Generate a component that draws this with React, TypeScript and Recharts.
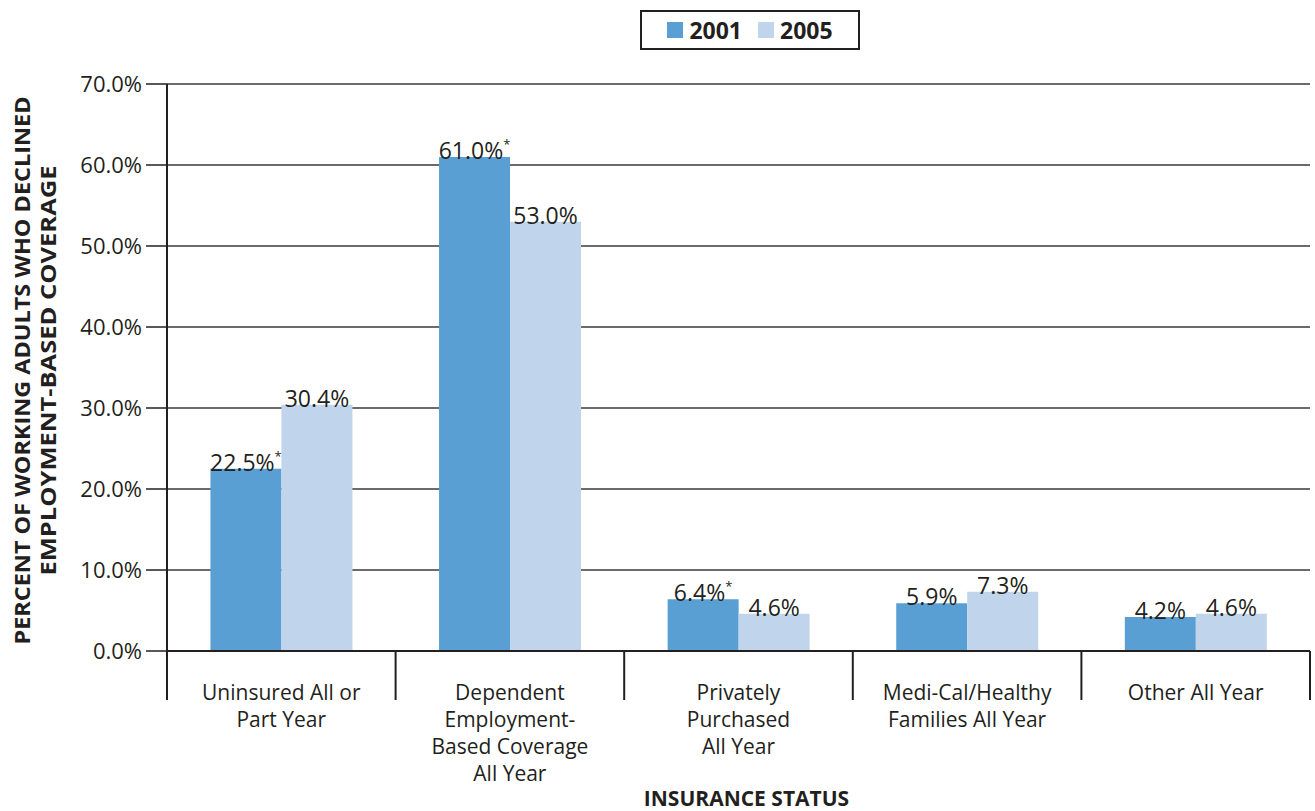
import React from "react";
import { BarChart, Bar, XAxis, YAxis, CartesianGrid, Label, LabelList } from "recharts";

const categories: string[] = [
  "Uninsured All or\nPart Year",
  "Dependent\nEmployment-\nBased Coverage\nAll Year",
  "Privately\nPurchased\nAll Year",
  "Medi-Cal/Healthy\nFamilies All Year",
  "Other All Year",
];
const values2001: number[] = [22.5, 61.0, 6.4, 5.9, 4.2];
const values2005: number[] = [30.4, 53.0, 4.6, 7.3, 4.6];
// asterisk = statistically significant difference
const sig2001: boolean[] = [true, true, true, false, false];
const sig2005: boolean[] = [false, false, false, false, false];
const yTicks: number[] = [0, 10, 20, 30, 40, 50, 60, 70];

const W = 1315;
const H = 811;
const MARGIN = { top: 84, right: 5, left: 0, bottom: 0 };
const Y_W = 167;
const X_H = 160;
const BAND = (W - MARGIN.left - MARGIN.right - Y_W) / categories.length;

const C2001 = "#599fd3";
const C2005 = "#c0d5ec";
const INK = "#231f20";
const FONT = "'Open Sans', 'DejaVu Sans', sans-serif";

const data = categories.map((name, i) => ({
  name,
  y2001: values2001[i],
  y2005: values2005[i],
}));

const XTick = (props: any) => {
  const { x, y, payload, index } = props;
  const lines = String(payload.value).split("\n");
  return (
    <g>
      <line x1={x - BAND / 2} x2={x - BAND / 2} y1={y} y2={y + 49} stroke={INK} strokeWidth={2} />
      {index === categories.length - 1 && (
        <line x1={x + BAND / 2} x2={x + BAND / 2} y1={y} y2={y + 49} stroke={INK} strokeWidth={2} />
      )}
      <text x={x} y={y + 49} textAnchor="middle" fontSize={21} fill={INK} fontFamily={FONT}>
        {lines.map((l, i) => (
          <tspan key={i} x={x} dy={i === 0 ? 0 : 27}>
            {l}
          </tspan>
        ))}
      </text>
    </g>
  );
};

const makeLabel = (flags: boolean[]) => (props: any) => {
  const { x, y, width, value, index } = props;
  return (
    <text x={x + width / 2} y={y + 2} textAnchor="middle" fontSize={23} fill={INK} fontFamily={FONT}>
      {`${Number(value).toFixed(1)}%`}
      {flags[index] && (
        <tspan fontSize={13} dy={-10}>
          *
        </tspan>
      )}
    </text>
  );
};

const YTitle = (props: any) => {
  const vb = props.viewBox;
  const cy = vb.y + vb.height / 2 + 3;
  return (
    <g fontFamily={FONT} fontWeight={700} fontSize={21} fill={INK}>
      <text
        x={22}
        y={cy}
        transform={`rotate(-90 22 ${cy})`}
        textAnchor="middle"
        dominantBaseline="central"
        textLength={548}
        lengthAdjust="spacingAndGlyphs"
      >
        PERCENT OF WORKING ADULTS WHO DECLINED
      </text>
      <text
        x={48}
        y={cy}
        transform={`rotate(-90 48 ${cy})`}
        textAnchor="middle"
        dominantBaseline="central"
        textLength={410}
        lengthAdjust="spacingAndGlyphs"
      >
        EMPLOYMENT-BASED COVERAGE
      </text>
    </g>
  );
};

const LegendBox = () => (
  <div
    style={{
      position: "absolute",
      left: 640,
      top: 10,
      width: 216,
      height: 36,
      border: `2px solid ${INK}`,
      display: "flex",
      alignItems: "center",
      justifyContent: "center",
      fontFamily: FONT,
      fontWeight: 700,
      fontSize: 23,
      color: INK,
      background: "#fff",
    }}
  >
    <span style={{ width: 16, height: 16, background: C2001, marginRight: 6 }} />
    <span style={{ marginRight: 16 }}>2001</span>
    <span style={{ width: 16, height: 16, background: C2005, marginRight: 6 }} />
    <span>2005</span>
  </div>
);

export default function App() {
  return (
    <div style={{ position: "absolute", left: 0, top: 0, width: W, height: H, background: "#fff" }}>
      <BarChart
        width={W}
        height={H}
        data={data}
        margin={MARGIN}
        barCategoryGap="19%"
        barGap={0}
      >
        <CartesianGrid vertical={false} stroke="#3a3a3a" strokeWidth={1.5} />
        <XAxis
          dataKey="name"
          height={X_H}
          interval={0}
          tickSize={0}
          tickMargin={0}
          tickLine={false}
          axisLine={{ stroke: INK, strokeWidth: 2 }}
          tick={<XTick />}
        >
          <Label
            value="INSURANCE STATUS"
            position="insideBottom"
            offset={5}
            dx={8}
            fontFamily={FONT}
            fontWeight={700}
            fontSize={21}
            fill={INK}
          />
        </XAxis>
        <YAxis
          width={Y_W}
          domain={[0, 70]}
          ticks={yTicks}
          interval={0}
          tickSize={21}
          tickMargin={4}
          tickLine={{ stroke: INK, strokeWidth: 1.5 }}
          axisLine={{ stroke: INK, strokeWidth: 2 }}
          tickFormatter={(v: number) => `${v.toFixed(1)}%`}
          tick={{ fontSize: 22, fill: INK, fontFamily: FONT }}
          label={{ content: <YTitle /> }}
        />
        <Bar dataKey="y2001" name="2001" fill={C2001} isAnimationActive={false}>
          <LabelList dataKey="y2001" content={makeLabel(sig2001)} />
        </Bar>
        <Bar dataKey="y2005" name="2005" fill={C2005} isAnimationActive={false}>
          <LabelList dataKey="y2005" content={makeLabel(sig2005)} />
        </Bar>
      </BarChart>
      <LegendBox />
    </div>
  );
}
